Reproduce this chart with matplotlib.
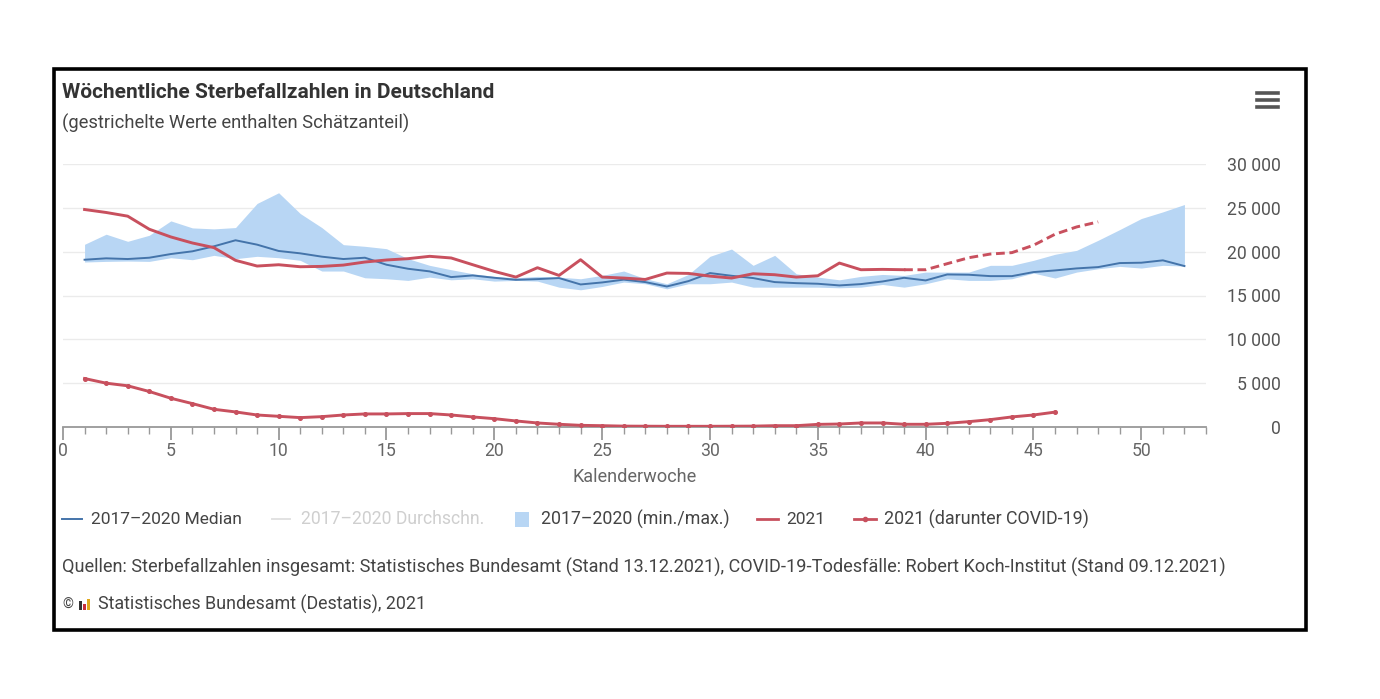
import matplotlib
matplotlib.use("Agg")
import matplotlib.pyplot as plt
from matplotlib.lines import Line2D
from matplotlib.patches import Rectangle
from matplotlib.ticker import FuncFormatter, MultipleLocator

# --- data ---
weeks = list(range(1, 53))

median_2017_2020 = [
    19080, 19240, 19160, 19310, 19730, 20040, 20610, 21300, 20800, 20080,
    19810, 19430, 19160, 19310, 18510, 18050, 17750, 17100, 17290, 17020,
    16790, 16870, 16990, 16260, 16490, 16810, 16530, 16030, 16640, 17560,
    17250, 16990, 16530, 16410, 16340, 16150, 16300, 16600, 17020, 16720,
    17400, 17370, 17210, 17210, 17670, 17860, 18090, 18240, 18700, 18740,
    19010, 18360,
]

max_2017_2020 = [
    20840, 21990, 21180, 21870, 23510, 22710, 22600, 22750, 25500, 26720,
    24350, 22750, 20800, 20610, 20340, 19200, 18440, 17940, 17480, 17180,
    17020, 17180, 17100, 16910, 17290, 17790, 16910, 16340, 17400, 19470,
    20300, 18440, 19580, 17480, 17100, 16790, 17180, 17400, 17290, 17670,
    17670, 17670, 18440, 18440, 19010, 19700, 20150, 21300, 22520, 23780,
    24540, 25380,
]

min_2017_2020 = [
    18820, 18890, 18930, 18890, 19310, 19080, 19580, 19200, 19470, 19310,
    19010, 17790, 17790, 17020, 16910, 16720, 17100, 16790, 16910, 16640,
    16720, 16640, 15950, 15650, 16030, 16530, 16340, 15760, 16340, 16340,
    16530, 15950, 15950, 15950, 15950, 15880, 15950, 16260, 15950, 16340,
    16910, 16720, 16720, 16910, 17560, 16990, 17670, 18050, 18320, 18130,
    18440, 18360,
]

weeks_2021 = list(range(1, 49))
deaths_2021 = [
    24810, 24470, 24050, 22560, 21680, 20990, 20460, 19010, 18360, 18510,
    18280, 18320, 18470, 18820, 19050, 19200, 19470, 19280, 18510, 17750,
    17100, 18170, 17290, 19080, 17100, 16990, 16830, 17560, 17520, 17210,
    16990, 17480, 17370, 17100, 17250, 18700, 17940, 17980, 17940, 17940,
    18630, 19310, 19730, 19890, 20730, 21990, 22820, 23400,
]
estimate_from_week = 39  # dashed from here on (contains estimates)

weeks_covid = list(range(1, 47))
covid_2021 = [
    5530, 5000, 4700, 4050, 3280, 2670, 2020, 1720, 1370, 1220,
    1070, 1180, 1370, 1490, 1490, 1530, 1530, 1370, 1150, 950,
    690, 460, 310, 190, 150, 100, 90, 80, 80, 80,
    90, 100, 150, 150, 300, 340, 460, 460, 310, 310,
    420, 610, 840, 1150, 1370, 1700,
]

# --- style ---
W, H = 1380, 699
FONT = "Roboto"
TEXT = "#444444"
BLUE = "#4474aa"
BAND = "#b8d6f4"
RED = "#c8505e"
AXIS = "#999999"

plt.rcParams["font.family"] = [FONT, "DejaVu Sans"]


def fx(x):
    return x / W


def fy(y):
    return 1 - y / H


def fit_text(fig, x, y, s, target_w, **kw):
    """place text at pixel coords and scale its size to a target width"""
    t = fig.text(fx(x), fy(y), s, va="center", ha="left", **kw)
    r = fig.canvas.get_renderer()
    w = t.get_window_extent(r).width
    t.set_fontsize(t.get_fontsize() * target_w / w)
    return t


fig = plt.figure(figsize=(W / 100, H / 100), dpi=100, facecolor="white")

# outer frame
fig.patches.append(Rectangle((fx(54), fy(630)), fx(1306) - fx(54), fy(69) - fy(630),
                             transform=fig.transFigure, fill=False,
                             edgecolor="black", linewidth=2.6))

ax = fig.add_axes([fx(63), fy(427), fx(1206) - fx(63), fy(164) - fy(427)])

ax.fill_between(weeks, min_2017_2020, max_2017_2020, color=BAND, linewidth=0, zorder=1)
ax.plot(weeks, median_2017_2020, color=BLUE, linewidth=1.4, zorder=3)

i_est = weeks_2021.index(estimate_from_week)
ax.plot(weeks_2021[:i_est + 1], deaths_2021[:i_est + 1], color=RED, linewidth=2.1, zorder=4)
ax.plot(weeks_2021[i_est:], deaths_2021[i_est:], color=RED, linewidth=2.1,
        linestyle=(0, (3, 1.6)), zorder=4)

ax.plot(weeks_covid, covid_2021, color=RED, linewidth=2.1, marker="o",
        markersize=2.6, zorder=4)

ax.set_xlim(0, 53)
ax.set_ylim(0, 30000)

ax.xaxis.set_major_locator(MultipleLocator(5))
ax.xaxis.set_minor_locator(MultipleLocator(1))
ax.yaxis.set_major_locator(MultipleLocator(5000))
ax.yaxis.set_major_formatter(FuncFormatter(lambda v, p: f"{v:,.0f}".replace(",", " ")))

for s in ["top", "left", "right"]:
    ax.spines[s].set_visible(False)
ax.spines["bottom"].set_color(AXIS)
ax.spines["bottom"].set_linewidth(1.3)

ax.tick_params(axis="x", which="major", length=9, width=1.3, color=AXIS,
               labelcolor="#666666", labelsize=12, pad=2)
ax.tick_params(axis="x", which="minor", length=5, width=1, color=AXIS)
ax.tick_params(axis="y", which="both", length=0, left=False, right=False,
               labelleft=False, labelright=True, labelcolor="#555555",
               labelsize=12, pad=54)

ax.grid(axis="y", color="#ebebeb", linewidth=1)
ax.set_axisbelow(True)

# size the y tick labels so "30 000" is about 54 px wide, like the reference
fig.canvas.draw()
r = fig.canvas.get_renderer()
ylabs = ax.get_yticklabels()
wide = max(ylabs, key=lambda t: t.get_window_extent(r).width)
scale = 54 / wide.get_window_extent(r).width
for lab in ylabs:
    lab.set_horizontalalignment("right")
    lab.set_fontsize(12 * scale)
for lab in ax.get_xticklabels():
    lab.set_fontsize(12 * scale)

# titles
fit_text(fig, 62, 92, "Wöchentliche Sterbefallzahlen in Deutschland", 432,
         fontsize=12, fontweight="bold", color="#333333")
fit_text(fig, 62, 123, "(gestrichelte Werte enthalten Schätzanteil)", 346,
         fontsize=10, color=TEXT)

fit_text(fig, 572, 477, "Kalenderwoche", 124, fontsize=10.5, color="#666666")

# hamburger menu
for yy in (93, 100, 107):
    fig.add_artist(Line2D([fx(1257), fx(1278)], [fy(yy), fy(yy)], color="#555555",
                          linewidth=2.6, transform=fig.transFigure))

# legend (hand placed)
LY = 519
fig.add_artist(Line2D([fx(62), fx(82)], [fy(LY), fy(LY)], color=BLUE, linewidth=1.4,
                      transform=fig.transFigure))
fit_text(fig, 91, LY, "2017–2020 Median", 152, fontsize=10.5, color=TEXT)
fig.add_artist(Line2D([fx(272), fx(290)], [fy(LY), fy(LY)], color="#e2e2e2", linewidth=1.4,
                      transform=fig.transFigure))
fit_text(fig, 301, LY, "2017–2020 Durchschn.", 184, fontsize=10.5, color="#cfcfcf")
fig.patches.append(Rectangle((fx(515), fy(527)), fx(14), 15 / H,
                             transform=fig.transFigure, facecolor=BAND, edgecolor="none"))
fit_text(fig, 541, LY, "2017–2020 (min./max.)", 189, fontsize=10.5, color=TEXT)
fig.add_artist(Line2D([fx(757), fx(778)], [fy(LY), fy(LY)], color=RED, linewidth=2,
                      transform=fig.transFigure))
fit_text(fig, 786, LY, "2021", 39, fontsize=10.5, color=TEXT)
fig.add_artist(Line2D([fx(854), fx(876)], [fy(LY), fy(LY)], color=RED, linewidth=2,
                      transform=fig.transFigure))
fig.add_artist(Line2D([fx(865)], [fy(LY)], color=RED, marker="o", markersize=3,
                      linestyle="none", transform=fig.transFigure))
fit_text(fig, 884, LY, "2021 (darunter COVID-19)", 206, fontsize=10.5, color=TEXT)

# sources
fit_text(fig, 62, 567,
         "Quellen: Sterbefallzahlen insgesamt: Statistisches Bundesamt (Stand 13.12.2021), "
         "COVID-19-Todesfälle: Robert Koch-Institut (Stand 09.12.2021)",
         1163, fontsize=10.5, color=TEXT)
fit_text(fig, 62, 605, "©", 11, fontsize=8, color=TEXT)
# tiny destatis logo
for x0, hgt, col in [(79, 9, "#333333"), (83, 6, "#c8303c"), (87, 11, "#e0a81c")]:
    fig.patches.append(Rectangle((fx(x0), fy(610)), fx(3), hgt / H,
                                 transform=fig.transFigure, facecolor=col, edgecolor="none"))
fit_text(fig, 98, 604, "Statistisches Bundesamt (Destatis), 2021", 330,
         fontsize=10.5, color=TEXT)

fig.savefig("out.png", dpi=100, facecolor="white")
